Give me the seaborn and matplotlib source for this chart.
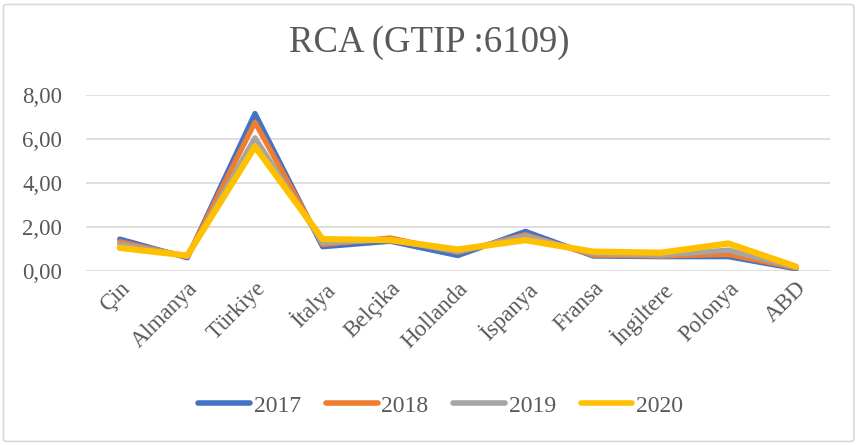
import pandas as pd
import matplotlib
matplotlib.use("Agg")
import matplotlib.pyplot as plt
import seaborn as sns
from matplotlib.patches import FancyBboxPatch

# Veriler (grafikten okunan yaklasik degerler)
ulkeler = ["Çin", "Almanya", "Türkiye", "İtalya", "Belçika", "Hollanda",
           "İspanya", "Fransa", "İngiltere", "Polonya", "ABD"]
rca_2017 = [1.45, 0.60, 7.15, 1.10, 1.35, 0.70, 1.80, 0.68, 0.65, 0.65, 0.10]
rca_2018 = [1.33, 0.65, 6.75, 1.20, 1.50, 0.85, 1.65, 0.72, 0.68, 0.75, 0.14]
rca_2019 = [1.22, 0.68, 6.05, 1.28, 1.42, 0.88, 1.60, 0.78, 0.72, 0.95, 0.16]
rca_2020 = [1.05, 0.70, 5.65, 1.45, 1.40, 0.98, 1.40, 0.88, 0.83, 1.25, 0.20]
yillar = ["2017", "2018", "2019", "2020"]
renkler = ["#4472C4", "#ED7D31", "#A5A5A5", "#FFC000"]

df = pd.DataFrame({
    "Ülke": ulkeler * 4,
    "RCA": rca_2017 + rca_2018 + rca_2019 + rca_2020,
    "Yıl": sum([[y] * len(ulkeler) for y in yillar], []),
})

sns.set_style("white")
plt.rcParams["font.family"] = ["Liberation Serif", "DejaVu Serif"]

fig = plt.figure(figsize=(8.59, 4.45), dpi=100)
ax = fig.add_axes([0.100, 0.391, 0.866, 0.396])

sns.lineplot(data=df, x="Ülke", y="RCA", hue="Yıl", palette=renkler,
             sort=False, linewidth=3.8, ax=ax, legend=False)
for line in ax.get_lines():
    line.set_solid_capstyle("round")
    line.set_solid_joinstyle("round")
ax.get_lines()[3].set_linewidth(4.5)

ax.set_xlim(-0.5, len(ulkeler) - 0.5)
ax.set_ylim(0, 8)
ax.set_yticks([0, 2, 4, 6, 8])
ax.set_yticklabels([f"{v:.2f}".replace(".", ",") for v in [0, 2, 4, 6, 8]])
ax.set_xticks(range(len(ulkeler)))
ax.set_xticklabels(ulkeler, rotation=45, ha="right", rotation_mode="anchor")
ax.tick_params(axis="both", labelsize=16.5, colors="#595959", length=0)
ax.tick_params(axis="x", pad=5)
ax.tick_params(axis="y", pad=17)
ax.grid(axis="y", color="#D9D9D9", linewidth=1.2)
ax.set_axisbelow(True)
ax.set_xlabel("")
ax.set_ylabel("")
for s in ax.spines.values():
    s.set_visible(False)

fig.text(0.5, 0.905, "RCA (GTIP :6109)", ha="center", va="center",
         fontsize=26.5, color="#595959")

handles = [plt.Line2D([0], [0], color=c, linewidth=4, solid_capstyle="round")
           for c in renkler]
fig.legend(handles, yillar, loc="center", bbox_to_anchor=(0.513, 0.088), ncol=4,
           frameon=False, fontsize=17, handlelength=2.2, handletextpad=0.15,
           columnspacing=1.05, labelcolor="#595959")

border = FancyBboxPatch((0.004, 0.008), 0.990, 0.982, transform=fig.transFigure,
                        boxstyle="round,pad=0,rounding_size=0.005",
                        facecolor="none", edgecolor="#D9D9D9", linewidth=1.2)
fig.patches.append(border)

fig.savefig("out.png", dpi=100)
